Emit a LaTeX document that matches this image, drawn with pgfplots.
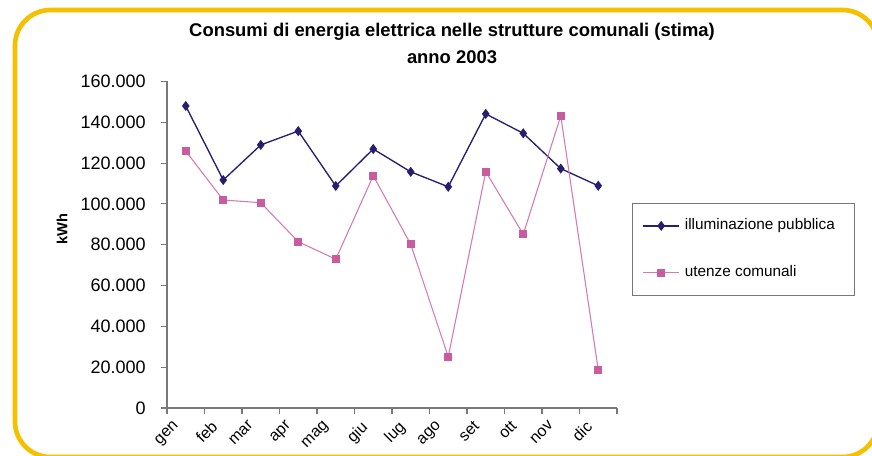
\documentclass[border=0pt]{standalone}
\usepackage{fontspec}
\setmainfont{Liberation Sans}
\usepackage{pgfplots}
\pgfplotsset{compat=1.18}

\definecolor{cornice}{RGB}{244,192,0}
\definecolor{blu}{RGB}{38,30,110}
\definecolor{rosa}{RGB}{200,92,158}
\definecolor{rosalinea}{RGB}{214,122,176}
\definecolor{assi}{RGB}{120,120,120}

\begin{document}
\begin{tikzpicture}[x=0.75pt,y=0.75pt]
  \useasboundingbox (0,0) rectangle (872,455);
  \clip (0,0) rectangle (872,455);
  \fill[white] (0,0) rectangle (872,455);
  % cornice arrotondata
  \draw[cornice, line width=3.5pt, rounded corners=26.6pt] (15,-2) rectangle (878,445);

  % titolo
  \node[font=\bfseries\fontsize{13.8}{15}\selectfont] at (452,423) {Consumi di energia elettrica nelle strutture comunali (stima)};
  \node[font=\bfseries\fontsize{13.8}{15}\selectfont] at (452,398) {anno 2003};
  % etichetta asse y
  \node[font=\bfseries\fontsize{11}{12}\selectfont, rotate=90] at (62,226) {kWh};

  \begin{axis}[
      at={(125.25pt,35.25pt)}, anchor=south west,
      scale only axis,
      width=337.5pt, height=244.9pt,
      xmin=0, xmax=12,
      ymin=0, ymax=160000,
      axis lines*=left,
      axis line style={assi, line width=0.8pt},
      every tick/.style={assi, line width=0.8pt},
      tick align=outside,
      major tick length=4.5pt,
      xtick={0,1,...,12},
      xticklabels={gen,feb,mar,apr,mag,giu,lug,ago,set,ott,nov,dic,},
      xticklabel style={rotate=45, anchor=north east, font=\fontsize{12}{12}\selectfont, xshift=1pt, yshift=-5pt, inner sep=1pt},
      ytick={0,20000,40000,60000,80000,100000,120000,140000,160000},
      yticklabels={0,20.000,40.000,60.000,80.000,100.000,120.000,140.000,160.000},
      scaled y ticks=false,
      yticklabel style={font=\fontsize{13.5}{14}\selectfont, xshift=-8pt},
      legend style={
        at={(1.0333,0.628)}, anchor=north west,
        draw=assi, line width=0.8pt,
        inner xsep=7.5pt, inner ysep=11.3pt,
        column sep=3.75pt, row sep=24.25pt,
        font=\fontsize{11.5}{13}\selectfont,
        nodes={inner sep=0pt, text height=8.5pt, text depth=2.5pt},
      },
      legend cell align=left,
      legend image code/.code={\draw[mark repeat=2,mark phase=2] plot coordinates {(0pt,0pt) (13.5pt,0pt) (27pt,0pt)};},
    ]
    % illuminazione pubblica
    \addplot[blu, line width=1pt, mark=diamond*, mark size=3pt, mark options={solid, fill=blu}] coordinates {
      (0.5,148000) (1.5,111700) (2.5,128900) (3.5,135700)
      (4.5,108800) (5.5,126900) (6.5,115700) (7.5,108400)
      (8.5,144100) (9.5,134600) (10.5,117300) (11.5,108900)
    };
    \addlegendentry{illuminazione pubblica\rule{7pt}{0pt}}
    % utenze comunali
    \addplot[rosalinea, line width=0.8pt, mark=square*, mark size=2.5pt, mark options={solid, draw=rosa, fill=rosa}] coordinates {
      (0.5,125900) (1.5,101900) (2.5,100600) (3.5,81500)
      (4.5,72900) (5.5,113800) (6.5,80200) (7.5,25100)
      (8.5,115800) (9.5,85100) (10.5,143100) (11.5,18600)
    };
    \addlegendentry{utenze comunali}
  \end{axis}
\end{tikzpicture}
\end{document}
